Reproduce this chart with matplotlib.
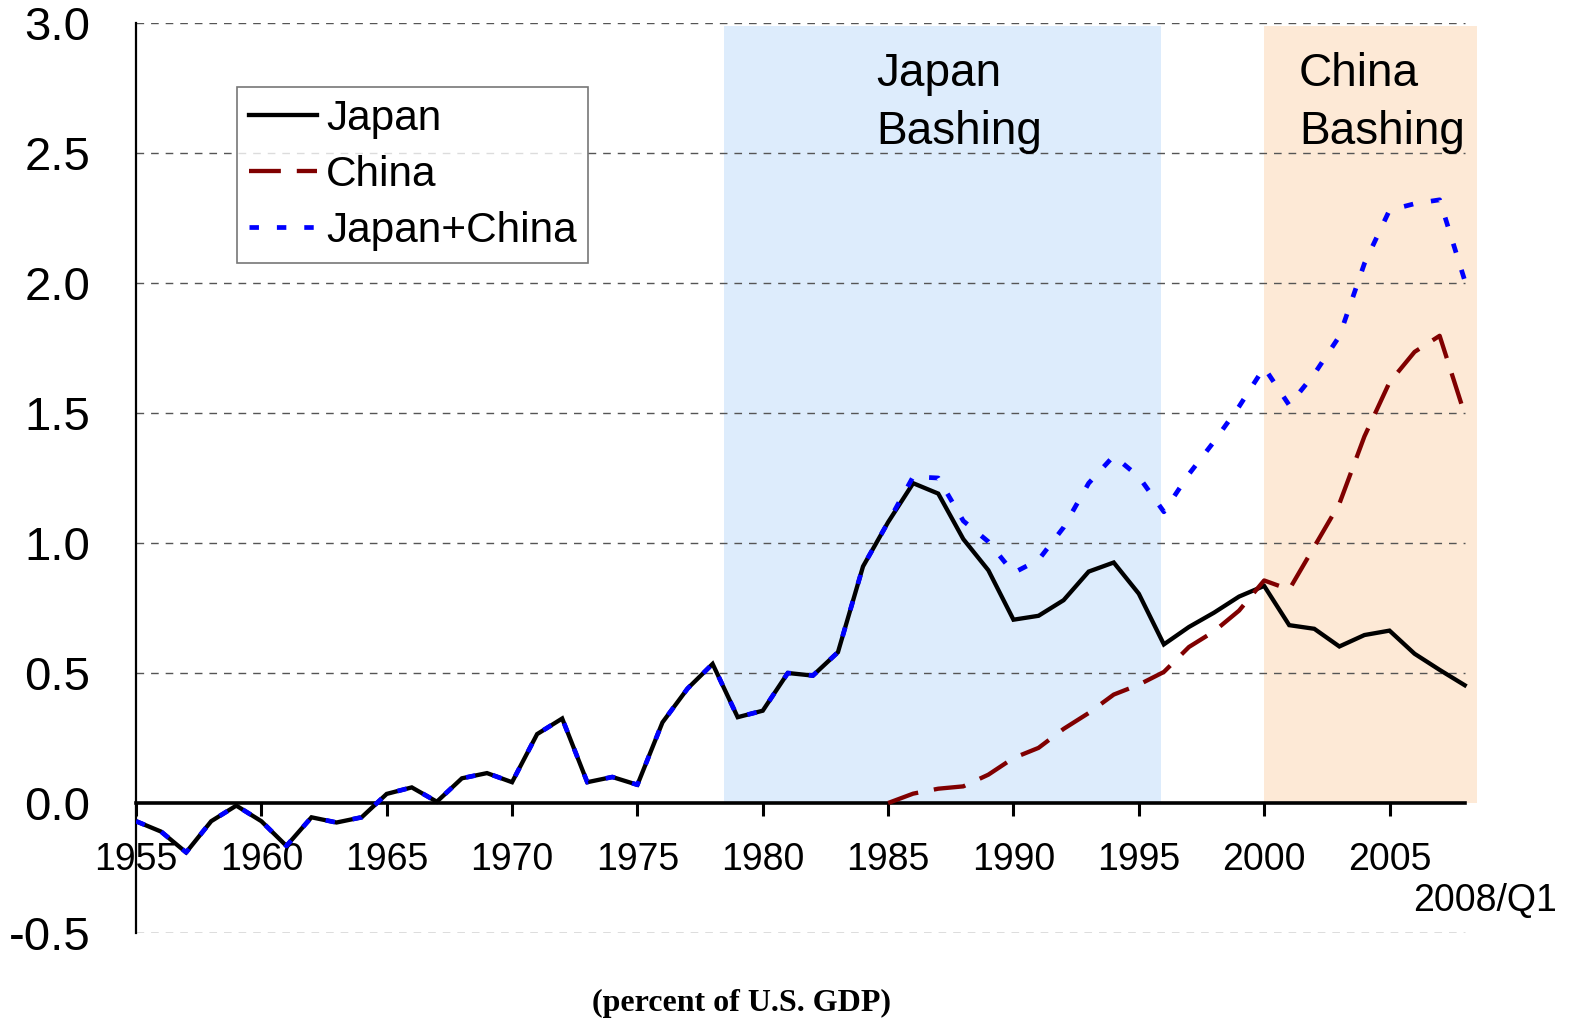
import matplotlib
matplotlib.use("Agg")
import matplotlib.pyplot as plt
import numpy as np

# ---- data (percent of U.S. GDP) ----
years = list(range(1955, 2009))
japan = [-0.07, -0.11, -0.19, -0.07, -0.01, -0.07, -0.165, -0.055, -0.075, -0.055,
         0.035, 0.06, 0.005, 0.095, 0.115, 0.08, 0.265, 0.325, 0.08, 0.10,
         0.07, 0.31, 0.44, 0.535, 0.33, 0.355, 0.50, 0.49, 0.58, 0.91,
         1.08, 1.23, 1.19, 1.015, 0.895, 0.705, 0.72, 0.78, 0.89, 0.925,
         0.805, 0.61, 0.677, 0.732, 0.794, 0.835, 0.684, 0.67, 0.602, 0.646,
         0.663, 0.574, 0.512, 0.453]
china_years = list(range(1985, 2009))
china = [0.0, 0.036, 0.055, 0.064, 0.109, 0.173, 0.212, 0.285, 0.346, 0.417,
         0.455, 0.504, 0.60, 0.66, 0.74, 0.856, 0.821, 0.986, 1.151, 1.41,
         1.618, 1.735, 1.797, 1.495]
# Japan+China from 1985 on (before 1985 it equals Japan)
japan_china_from_1985 = [1.08, 1.255, 1.25, 1.085, 1.005, 0.885, 0.935, 1.06, 1.23, 1.335,
                         1.255, 1.12, 1.265, 1.39, 1.525, 1.675, 1.53, 1.65, 1.795, 2.075,
                         2.28, 2.305, 2.32, 2.01]
japan_china = japan[:len(years) - len(japan_china_from_1985)] + japan_china_from_1985

xtick_years = [1955, 1960, 1965, 1970, 1975, 1980, 1985, 1990, 1995, 2000, 2005]
yticks = [-0.5, 0.0, 0.5, 1.0, 1.5, 2.0, 2.5, 3.0]
japan_bashing = (1978.45, 1995.9)
china_bashing = (2000.0, 2008.5)

# ---- figure ----
W, H = 1570, 1025
fig = plt.figure(figsize=(W / 100, H / 100), dpi=100)
x_end = 2008.6
left_px, right_px = 136, 136 + (x_end - 1955) * 25.07
ax = fig.add_axes([left_px / W, (H - 933) / H, (right_px - left_px) / W, (933 - 23) / H])
ax.set_xlim(1955, x_end)
ax.set_ylim(-0.5, 3.0)

sans = ["Liberation Sans", "DejaVu Sans"]

# shaded periods
ax.fill_between(japan_bashing, 0, 2.99, color="#DDECFC", lw=0, zorder=0)
ax.fill_between(china_bashing, 0, 2.99, color="#FDE9D6", lw=0, zorder=0)

# gridlines
grid_y = [v for v in yticks if v != 0.0]
ax.hlines(grid_y, 1955, 2008, colors="#555555", linewidth=1.0,
          linestyles=(0, (5.5, 5.0)), zorder=1)

# series
ax.plot(years, japan, color="black", lw=3.1, solid_joinstyle="miter", zorder=3, label="Japan")
ax.plot(china_years, china, color="#800000", lw=3.1, dashes=(7.4, 3.7), zorder=4, label="China")
ax.plot(years, japan_china, color="#0000FF", lw=3.4, dashes=(2.0, 3.8), zorder=5, label="Japan+China")

# spines / axes
for s in ("top", "right"):
    ax.spines[s].set_visible(False)
ax.spines["left"].set_linewidth(1.6)
ax.spines["bottom"].set_position(("data", 0))
ax.spines["bottom"].set_bounds(1955, 2008)
ax.spines["bottom"].set_linewidth(2.6)
ax.spines["bottom"].set_zorder(2)

ax.set_xticks(xtick_years)
ax.set_xticklabels([str(y) for y in xtick_years], fontsize=27, family=sans)
ax.tick_params(axis="x", direction="out", length=9, width=2.2, pad=19, colors="black")
ax.set_yticks(yticks)
ax.set_yticklabels([f"{v:.1f}" for v in yticks], fontsize=34, family=sans)
ax.tick_params(axis="y", length=0, pad=33)

# annotations
ax.text(1984.52, 2.89, "Japan\nBashing", fontsize=33, family=sans, ha="left", va="top",
        linespacing=1.42, zorder=6)
ax.text(2001.39, 2.89, "China\nBashing", fontsize=33, family=sans, ha="left", va="top",
        linespacing=1.42, zorder=6)
ax.text(2005.94, -0.377, "2008/Q1", fontsize=27, family=sans, ha="left", va="center")

fig.text(741 / W, 1 - 1003 / H, "(percent of U.S. GDP)", fontsize=23,
         family=["Liberation Serif", "DejaVu Serif"], weight="bold", ha="center", va="center")

leg = ax.legend(loc="upper left", bbox_to_anchor=(237 / W, 1 - 87 / H),
                bbox_transform=fig.transFigure, borderaxespad=0,
                prop={"family": sans, "size": 30.5}, frameon=True, fancybox=False,
                handlelength=1.6, handletextpad=0.22, labelspacing=0.38,
                borderpad=0.28)
leg.get_frame().set_edgecolor("#555555")
leg.get_frame().set_linewidth(1.2)
leg.set_zorder(7)

fig.savefig("out.png", dpi=100)
